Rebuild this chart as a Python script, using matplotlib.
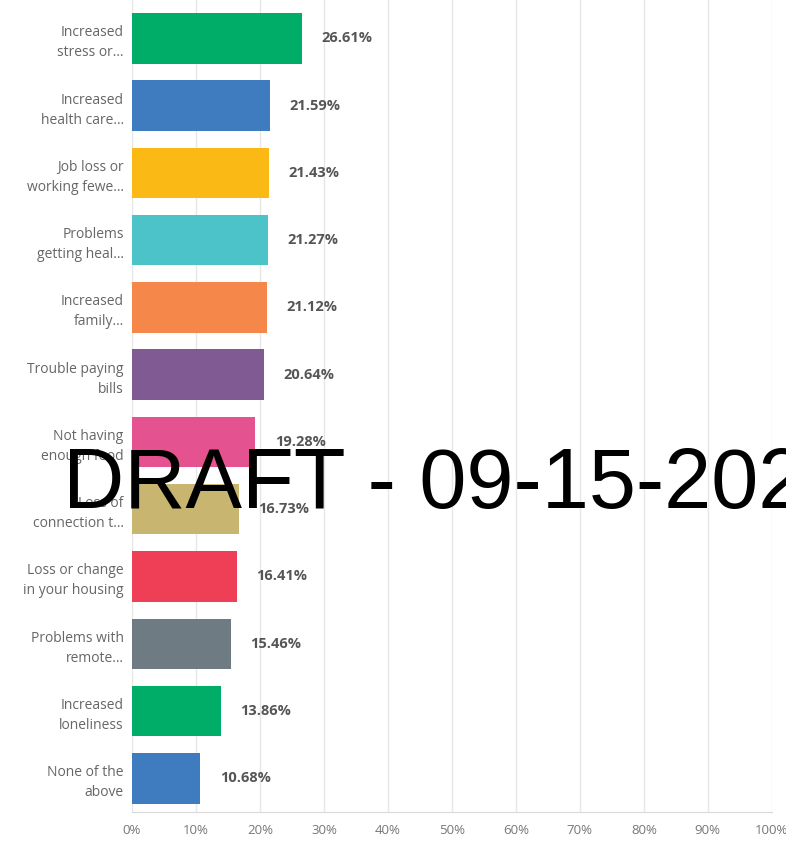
import matplotlib.pyplot as plt

labels = [
    "Increased\nstress or…",
    "Increased\nhealth care…",
    "Job loss or\nworking fewe…",
    "Problems\ngetting heal…",
    "Increased\nfamily…",
    "Trouble paying\nbills",
    "Not having\nenough food",
    "Loss of\nconnection t…",
    "Loss or change\nin your housing",
    "Problems with\nremote…",
    "Increased\nloneliness",
    "None of the\nabove",
]
values = [26.61, 21.59, 21.43, 21.27, 21.12, 20.64, 19.28, 16.73, 16.41, 15.46, 13.86, 10.68]
colors = [
    "#00ad68", "#3f7cbf", "#fbb915", "#4cc2c9", "#f5874a", "#7f5a93",
    "#e4528f", "#c8b56f", "#ef3f56", "#6f7b82", "#00ad68", "#3f7cbf",
]
ticks = list(range(0, 101, 10))

fig = plt.figure(figsize=(7.86, 8.44), dpi=100)
ax = fig.add_axes([0.168, 0.038, 0.814, 0.962])

ypos = list(range(len(values)))
ax.barh(ypos, values, height=0.75, color=colors, zorder=3)

for y, v in zip(ypos, values):
    ax.annotate(f"{v:.2f}%", (v, y), xytext=(14, 0), textcoords="offset points",
                va="center", ha="left", fontsize=10.5, fontweight="bold",
                color="#555555", family="Open Sans")

ax.set_xlim(0, 100)
ax.set_ylim(11.5, -0.57)
ax.set_xticks(ticks)
ax.set_xticklabels([f"{t}%" for t in ticks], fontsize=9.5, color="#777777",
                   family="Open Sans")
ax.set_yticks(ypos)
ax.set_yticklabels(labels, fontsize=10, color="#666666", family="Open Sans",
                   linespacing=1.45)
ax.tick_params(axis="both", length=0)
ax.tick_params(axis="y", pad=6)
ax.tick_params(axis="x", pad=9)
ax.grid(axis="x", color="#e6e6e6", linewidth=1, zorder=0)
for side in ["top", "right", "left"]:
    ax.spines[side].set_visible(False)
ax.spines["bottom"].set_color("#d9d9d9")

# watermark, runs off the right edge
fig.text(0.080, 0.398, "DRAFT - 09-15-2020", fontsize=61, color="black",
         family="Liberation Sans", ha="left", va="baseline")

fig.savefig("out.png", dpi=100)
